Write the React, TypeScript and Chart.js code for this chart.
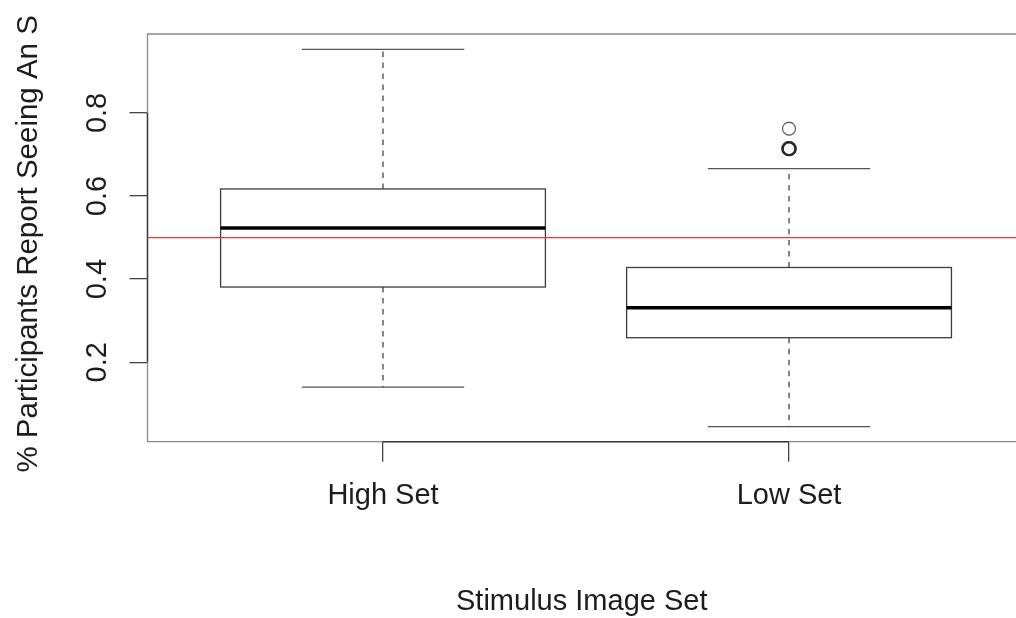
import React, { useEffect, useRef } from 'react';
import { Chart, registerables } from 'chart.js';

Chart.register(...registerables);

// ---- data ----
const categories = ['High Set', 'Low Set'];
const whiskerLow = [0.140, 0.045];
const q1 = [0.381, 0.259];
const median = [0.523, 0.331];
const q3 = [0.617, 0.428];
const whiskerHigh = [0.953, 0.666];
const outlierCategory = [2, 2, 2];
const outlierValues = [0.762, 0.714, 0.714];
const yTicks = [0.2, 0.4, 0.6, 0.8];
const referenceLine = 0.5;
const yTitle = '% Participants Report Seeing An S';
const xTitle = 'Stimulus Image Set';

// ---- styles ----
const FONT = '"Liberation Sans", Arial, Helvetica, sans-serif';
const TEXT_COLOR = '#1c1c1c';
const BOX_HALF = 0.4; // in category units
const CAP_HALF = 0.2;

const rBoxPlugin = {
  id: 'rBoxplot',
  afterDatasetsDraw(chart: any) {
    const { ctx, chartArea: a, scales } = chart;
    const xs = scales.x;
    const ys = scales.y;
    ctx.save();

    // plot frame (right side falls outside the picture)
    ctx.strokeStyle = '#8a8a8a';
    ctx.lineWidth = 1.3;
    ctx.beginPath();
    ctx.moveTo(a.right + 10, a.top);
    ctx.lineTo(a.left, a.top);
    ctx.lineTo(a.left, a.bottom);
    ctx.lineTo(a.right + 10, a.bottom);
    ctx.stroke();

    // axis lines spanning the tick range (R style)
    ctx.strokeStyle = '#3a3a3a';
    ctx.lineWidth = 1.4;
    ctx.beginPath();
    ctx.moveTo(a.left, ys.getPixelForValue(yTicks[0]));
    ctx.lineTo(a.left, ys.getPixelForValue(yTicks[yTicks.length - 1]));
    ctx.moveTo(xs.getPixelForValue(1), a.bottom);
    ctx.lineTo(xs.getPixelForValue(categories.length), a.bottom);
    ctx.stroke();

    // boxes
    categories.forEach((_, i) => {
      const c = i + 1;
      const cx = xs.getPixelForValue(c);
      const bl = xs.getPixelForValue(c - BOX_HALF);
      const br = xs.getPixelForValue(c + BOX_HALF);
      const cl = xs.getPixelForValue(c - CAP_HALF);
      const cr = xs.getPixelForValue(c + CAP_HALF);
      const yLo = ys.getPixelForValue(whiskerLow[i]);
      const yQ1 = ys.getPixelForValue(q1[i]);
      const yMed = ys.getPixelForValue(median[i]);
      const yQ3 = ys.getPixelForValue(q3[i]);
      const yHi = ys.getPixelForValue(whiskerHigh[i]);

      // whiskers (dashed)
      ctx.strokeStyle = '#444';
      ctx.lineWidth = 1.3;
      ctx.setLineDash([5.5, 5.5]);
      ctx.beginPath();
      ctx.moveTo(cx, yQ3);
      ctx.lineTo(cx, yHi);
      ctx.moveTo(cx, yQ1);
      ctx.lineTo(cx, yLo);
      ctx.stroke();
      ctx.setLineDash([]);

      // caps
      ctx.strokeStyle = '#555';
      ctx.lineWidth = 1.4;
      ctx.beginPath();
      ctx.moveTo(cl, yHi);
      ctx.lineTo(cr, yHi);
      ctx.moveTo(cl, yLo);
      ctx.lineTo(cr, yLo);
      ctx.stroke();

      // box
      ctx.strokeStyle = '#3c3c3c';
      ctx.lineWidth = 1.3;
      ctx.strokeRect(bl, yQ3, br - bl, yQ1 - yQ3);

      // median
      ctx.strokeStyle = '#000';
      ctx.lineWidth = 3.6;
      ctx.beginPath();
      ctx.moveTo(bl, yMed);
      ctx.lineTo(br, yMed);
      ctx.stroke();
    });

    // reference line
    const yr = ys.getPixelForValue(referenceLine);
    ctx.strokeStyle = '#ff3030';
    ctx.lineWidth = 1.2;
    ctx.beginPath();
    ctx.moveTo(a.left, yr);
    ctx.lineTo(a.right, yr);
    ctx.stroke();

    // y tick labels (rotated, R las=0)
    ctx.fillStyle = TEXT_COLOR;
    ctx.font = `29px ${FONT}`;
    ctx.textAlign = 'center';
    ctx.textBaseline = 'alphabetic';
    yTicks.forEach((v) => {
      ctx.save();
      ctx.translate(a.left - 42, ys.getPixelForValue(v));
      ctx.rotate(-Math.PI / 2);
      ctx.fillText(String(v), 0, 0);
      ctx.restore();
    });

    // y axis title
    ctx.save();
    ctx.font = `29.5px ${FONT}`;
    ctx.translate(37, (a.top + a.bottom) / 2 + 6);
    ctx.rotate(-Math.PI / 2);
    ctx.fillText(yTitle, 0, 0);
    ctx.restore();

    ctx.restore();
  },
};

export default function App() {
  const canvasRef = useRef<HTMLCanvasElement | null>(null);

  useEffect(() => {
    if (!canvasRef.current) return;
    const chart = new Chart(canvasRef.current, {
      type: 'scatter',
      data: {
        datasets: [
          {
            label: 'Outliers',
            data: outlierValues.map((v, i) => ({ x: outlierCategory[i], y: v })),
            pointStyle: 'circle',
            pointRadius: 6.5,
            pointBorderWidth: [1.3, 2.3, 2.3],
            pointBorderColor: ['#666', '#2a2a2a', '#2a2a2a'],
            pointBackgroundColor: 'rgba(0,0,0,0)',
            pointHoverRadius: 6.5,
          },
        ],
      },
      options: {
        responsive: false,
        animation: false,
        events: [],
        layout: { autoPadding: false, padding: { left: 0, right: 0, top: 34, bottom: 0 } },
        plugins: {
          legend: { display: false },
          tooltip: { enabled: false },
          title: { display: false },
        },
        scales: {
          x: {
            type: 'linear',
            position: 'bottom',
            min: 0.42,
            max: 2.559,
            afterBuildTicks: (scale: any) => {
              scale.ticks = categories.map((_, i) => ({ value: i + 1 }));
            },
            afterFit: (scale: any) => {
              scale.height = 176.3;
              scale.paddingLeft = 0;
              scale.paddingRight = 0;
            },
            ticks: {
              autoSkip: false,
              maxRotation: 0,
              minRotation: 0,
              padding: 17,
              color: TEXT_COLOR,
              font: { family: FONT, size: 29 },
              callback: (value: any) => categories[Number(value) - 1] ?? '',
            },
            grid: {
              drawOnChartArea: false,
              drawTicks: true,
              tickLength: 20,
              color: '#444',
              lineWidth: 1.3,
            },
            border: { display: false },
            title: {
              display: true,
              text: xTitle,
              color: TEXT_COLOR,
              font: { family: FONT, size: 29, lineHeight: 1.0 },
              padding: { top: 0, bottom: 1.5 },
            },
          },
          y: {
            type: 'linear',
            position: 'left',
            min: 0.0087,
            max: 0.99,
            afterBuildTicks: (scale: any) => {
              scale.ticks = yTicks.map((v) => ({ value: v }));
            },
            afterFit: (scale: any) => {
              scale.width = 147.5;
              scale.paddingTop = 0;
              scale.paddingBottom = 0;
            },
            ticks: { display: false },
            grid: {
              drawOnChartArea: false,
              drawTicks: true,
              tickLength: 18,
              color: '#444',
              lineWidth: 1.3,
            },
            border: { display: false },
          },
        },
      },
      plugins: [rBoxPlugin],
    });
    return () => chart.destroy();
  }, []);

  return (
    <div style={{ position: 'absolute', left: 0, top: 0, width: 1016, height: 618, background: '#fff' }}>
      <canvas ref={canvasRef} width={1016} height={618} style={{ display: 'block' }} />
    </div>
  );
}
